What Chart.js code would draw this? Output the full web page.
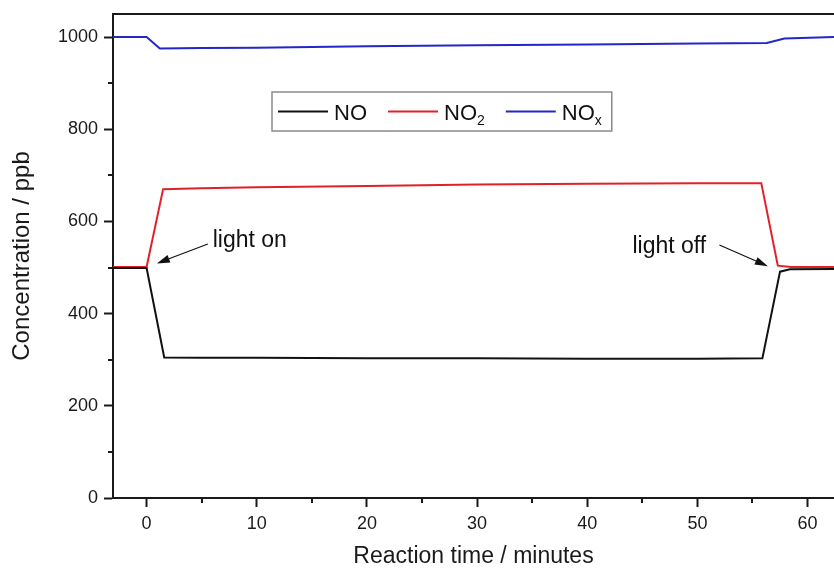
<!DOCTYPE html>
<html>
<head>
<meta charset="utf-8">
<script src="https://cdn.jsdelivr.net/npm/chart.js@4.4.0/dist/chart.umd.min.js"></script>
<style>
  html, body { margin: 0; padding: 0; background: #fff; overflow: hidden; }
  #wrap { width: 834px; height: 568px; }
</style>
</head>
<body>
<div id="wrap"><canvas id="chart" width="834" height="568"></canvas></div>
<script>
// reaction time (minutes) and concentration (ppb)
const timeNO   = [-3.05, 0, 1.6, 5, 10, 20, 30, 40, 50, 55.9, 57.5, 58.4, 62.4];
const valueNO  = [499, 499, 305, 304, 304, 303, 303, 302, 302, 303, 491, 496, 497];

const timeNO2  = [-3.05, 0, 1.5, 5, 10, 20, 30, 40, 50, 55.8, 57.3, 58.5, 62.4];
const valueNO2 = [501, 501, 670, 672, 674, 677, 680, 682, 683, 683, 504, 501, 501];

const timeNOx  = [-3.05, 0, 1.2, 5, 10, 20, 30, 40, 50, 56.3, 57.9, 62.4];
const valueNOx = [1000, 1000, 975, 976, 977, 980, 982, 984, 986, 987, 997, 1000];

const seriesNames = ["NO", "NO2", "NOx"];
const legendMain  = ["NO", "NO", "NO"];
const legendSub   = ["", "2", "x"];

const xTicksMajor = [0, 10, 20, 30, 40, 50, 60];
const yTicksMajor = [0, 200, 400, 600, 800, 1000];

const AXIS = "#1a1a1a";
const FONT = "'Liberation Sans', Arial, sans-serif";

function toPoints(t, v) {
  return t.map((x, i) => ({ x: x, y: v[i] }));
}

// annotation texts and arrows, in data units
const notes = [
  { text: "light on",  tx: 6.0,  ty: 545, from: [5.56, 551], to: [0.93, 509] },
  { text: "light off", tx: 44.1, ty: 532, from: [52.0, 549], to: [56.4, 503] },
];

// short minor ticks at the odd steps
const minorTicks = {
  id: "minorTicks",
  afterDraw(chart) {
    const { ctx, chartArea } = chart;
    const xs = chart.scales.x, ys = chart.scales.y;
    ctx.save();
    ctx.strokeStyle = AXIS;
    ctx.lineWidth = 2;
    xs.ticks.forEach((t) => {
      if (xTicksMajor.includes(t.value)) return;
      const px = Math.round(xs.getPixelForValue(t.value));
      ctx.beginPath();
      ctx.moveTo(px, chartArea.bottom);
      ctx.lineTo(px, chartArea.bottom + 5);
      ctx.stroke();
    });
    ys.ticks.forEach((t) => {
      if (yTicksMajor.includes(t.value)) return;
      const py = Math.round(ys.getPixelForValue(t.value));
      ctx.beginPath();
      ctx.moveTo(chartArea.left, py);
      ctx.lineTo(chartArea.left - 5, py);
      ctx.stroke();
    });
    ctx.restore();
  },
};

const notesPlugin = {
  id: "notes",
  afterDatasetsDraw(chart) {
    const { ctx } = chart;
    const xs = chart.scales.x, ys = chart.scales.y;
    ctx.save();
    ctx.fillStyle = "#111";
    ctx.strokeStyle = "#111";
    ctx.font = "23px " + FONT;
    ctx.textBaseline = "alphabetic";
    ctx.textAlign = "left";
    notes.forEach((n) => {
      ctx.fillText(n.text, xs.getPixelForValue(n.tx), ys.getPixelForValue(n.ty));
      const x1 = xs.getPixelForValue(n.from[0]), y1 = ys.getPixelForValue(n.from[1]);
      const x2 = xs.getPixelForValue(n.to[0]), y2 = ys.getPixelForValue(n.to[1]);
      const a = Math.atan2(y2 - y1, x2 - x1);
      const len = 13, half = 4;
      const bx = x2 - len * Math.cos(a), by = y2 - len * Math.sin(a);
      ctx.lineWidth = 1.2;
      ctx.beginPath();
      ctx.moveTo(x1, y1);
      ctx.lineTo(bx, by);
      ctx.stroke();
      ctx.beginPath();
      ctx.moveTo(x2, y2);
      ctx.lineTo(bx + half * Math.sin(a), by - half * Math.cos(a));
      ctx.lineTo(bx - half * Math.sin(a), by + half * Math.cos(a));
      ctx.closePath();
      ctx.fill();
    });
    ctx.restore();
  },
};

// boxed legend with subscripts
const boxLegend = {
  id: "boxLegend",
  afterDatasetsDraw(chart) {
    const { ctx, chartArea } = chart;
    const left = chartArea.left + 159, top = chartArea.top + 78, h = 39;
    const mainFont = "22px " + FONT, subFont = "14px " + FONT;
    ctx.save();
    let x = left + 6;
    const items = [];
    chart.data.datasets.forEach((ds, i) => {
      ctx.font = mainFont;
      const wMain = ctx.measureText(legendMain[i]).width;
      ctx.font = subFont;
      const wSub = legendSub[i] ? ctx.measureText(legendSub[i]).width : 0;
      items.push({ x: x, color: ds.borderColor, wMain: wMain });
      x += 50 + 6 + wMain + wSub + 21;
    });
    const w = x - 21 + 10 - left;
    ctx.fillStyle = "#fff";
    ctx.fillRect(left, top, w, h);
    ctx.strokeStyle = "#8a8a8a";
    ctx.lineWidth = 1.5;
    ctx.strokeRect(left, top, w, h);
    const cy = top + h / 2;
    items.forEach((it, i) => {
      ctx.strokeStyle = it.color;
      ctx.lineWidth = 2;
      ctx.beginPath();
      ctx.moveTo(it.x, cy);
      ctx.lineTo(it.x + 50, cy);
      ctx.stroke();
      ctx.fillStyle = "#111";
      ctx.textBaseline = "alphabetic";
      ctx.font = mainFont;
      const base = cy + 8;
      ctx.fillText(legendMain[i], it.x + 56, base);
      if (legendSub[i]) {
        ctx.font = subFont;
        ctx.fillText(legendSub[i], it.x + 56 + it.wMain, base + 5);
      }
    });
    ctx.restore();
  },
};

const ctx = document.getElementById("chart").getContext("2d");
new Chart(ctx, {
  type: "line",
  data: {
    datasets: [
      { label: seriesNames[0], data: toPoints(timeNO, valueNO),   borderColor: "#111111" },
      { label: seriesNames[1], data: toPoints(timeNO2, valueNO2), borderColor: "#e3202a" },
      { label: seriesNames[2], data: toPoints(timeNOx, valueNOx), borderColor: "#2326c9" },
    ],
  },
  options: {
    responsive: false,
    animation: false,
    devicePixelRatio: 1,
    layout: { padding: 0 },
    elements: {
      line: { borderWidth: 2, tension: 0 },
      point: { radius: 0 },
    },
    plugins: { legend: { display: false }, tooltip: { enabled: false } },
    scales: {
      x: {
        type: "linear",
        position: "bottom",
        min: -3.05,
        max: 62.4,
        afterFit: (s) => { s.height = 70; },
        border: { display: true, color: AXIS, width: 2 },
        grid: {
          display: true,
          drawOnChartArea: false,
          tickLength: 9,
          tickWidth: 2,
          tickColor: (c) => (c.tick && xTicksMajor.includes(c.tick.value) ? AXIS : "rgba(0,0,0,0)"),
        },
        ticks: {
          stepSize: 5,
          includeBounds: false,
          maxRotation: 0,
          autoSkip: false,
          padding: 6,
          color: "#1a1a1a",
          font: { family: FONT, size: 18 },
          callback: (v) => (xTicksMajor.includes(v) ? String(v) : ""),
        },
        title: {
          display: true,
          text: "Reaction time / minutes",
          color: "#1a1a1a",
          font: { family: FONT, size: 23, lineHeight: 1 },
          padding: { top: 0, bottom: 0 },
        },
      },
      x2: {
        type: "linear",
        position: "top",
        min: -3.05,
        max: 62.4,
        afterFit: (s) => { s.height = 14; },
        border: { display: true, color: AXIS, width: 2 },
        grid: { display: false },
        ticks: { display: false },
      },
      y: {
        type: "linear",
        position: "left",
        min: 0,
        max: 1050,
        afterFit: (s) => { s.width = 113; s.paddingTop = 0; s.paddingBottom = 0; },
        border: { display: true, color: AXIS, width: 2 },
        grid: {
          display: true,
          drawOnChartArea: false,
          tickLength: 9,
          tickWidth: 2,
          tickColor: (c) => (c.tick && yTicksMajor.includes(c.tick.value) ? AXIS : "rgba(0,0,0,0)"),
        },
        ticks: {
          stepSize: 100,
          includeBounds: false,
          autoSkip: false,
          padding: 6,
          color: "#1a1a1a",
          font: { family: FONT, size: 18 },
          callback: (v) => (yTicksMajor.includes(v) ? String(v) : ""),
        },
        title: {
          display: true,
          text: "Concentration / ppb",
          color: "#1a1a1a",
          font: { family: FONT, size: 24, lineHeight: 1 },
          padding: { top: 10, bottom: 0 },
        },
      },
    },
  },
  plugins: [minorTicks, notesPlugin, boxLegend],
});
</script>
</body>
</html>
